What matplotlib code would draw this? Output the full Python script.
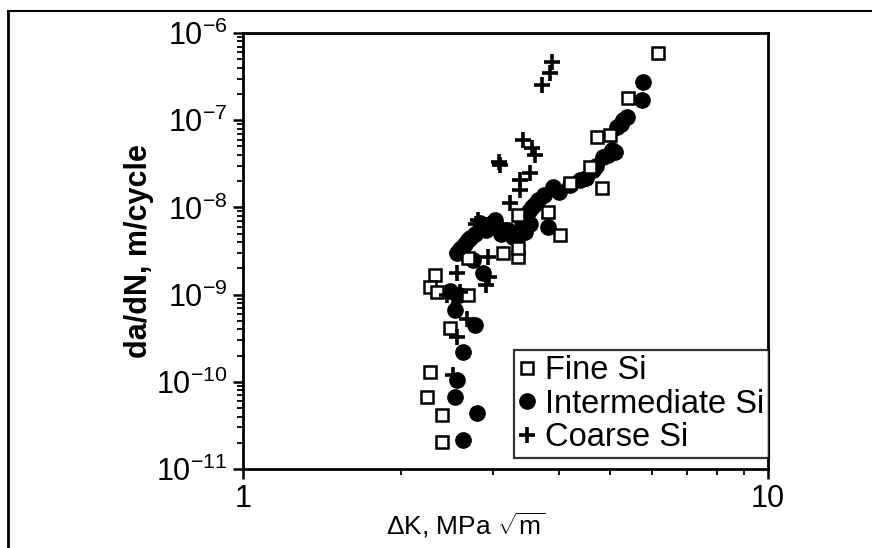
"""Fatigue crack growth rate vs stress intensity range for three Si morphologies."""

import matplotlib
matplotlib.use("Agg")
import matplotlib.pyplot as plt
from matplotlib.lines import Line2D
from matplotlib.ticker import LogLocator, FixedLocator, FixedFormatter, NullFormatter

plt.rcParams["font.family"] = ["Liberation Sans", "DejaVu Sans"]
plt.rcParams["mathtext.fontset"] = "custom"
plt.rcParams["mathtext.rm"] = "Liberation Sans"
plt.rcParams["mathtext.it"] = "Liberation Sans"
plt.rcParams["mathtext.default"] = "regular"
plt.rcParams["axes.unicode_minus"] = False

# data (dK in MPa*sqrt(m), da/dN in m/cycle)
fine_dk = [6.17, 5.41, 4.72, 5.00, 4.58, 4.83, 4.20, 4.02, 3.81, 3.34, 3.13, 3.34, 3.34,
           2.68, 2.32, 2.27, 2.34, 2.68, 2.48, 2.27, 2.24, 2.39, 2.39]
fine_dadn = [5.9e-7, 1.8e-7, 6.4e-8, 6.8e-8, 2.9e-8, 1.67e-8, 1.9e-8, 4.8e-9, 8.9e-9, 8.2e-9,
             3.0e-9, 2.7e-9, 3.4e-9, 2.6e-9, 1.68e-9, 1.22e-9, 1.06e-9, 9.9e-10, 4.1e-10,
             1.3e-10, 6.7e-11, 4.2e-11, 2.04e-11]

inter_dk = [5.78, 5.75, 5.39, 5.30, 5.25, 5.16, 5.11, 5.05, 4.95, 4.85, 4.70, 4.64, 4.50,
            4.38, 4.20, 4.00, 3.90, 3.75, 3.65, 3.60, 3.55, 3.50, 3.45, 3.81, 3.41, 3.30,
            3.27, 3.20, 3.10, 3.02, 2.90, 2.83, 2.68, 2.62, 2.74, 2.86, 2.58, 2.48, 2.53,
            2.77, 2.62, 2.56, 2.53, 2.79, 2.62,
            2.56, 2.59, 2.65, 2.71, 2.77, 2.95, 3.05, 3.15, 3.25, 3.35, 3.45, 3.40, 3.52]
inter_dadn = [2.74e-7, 1.7e-7, 1.09e-7, 1.0e-7, 9.0e-8, 8.4e-8, 4.3e-8, 4.5e-8, 4.0e-8,
              3.8e-8, 3.0e-8, 2.7e-8, 2.2e-8, 2.06e-8, 1.8e-8, 1.5e-8, 1.7e-8, 1.4e-8,
              1.2e-8, 1.1e-8, 1.0e-8, 9.0e-9, 8.0e-9, 6.0e-9, 6.0e-9, 5.0e-9, 4.6e-9,
              5.5e-9, 5.0e-9, 7.2e-9, 5.5e-9, 6.6e-9, 4.2e-9, 3.5e-9, 2.5e-9, 1.77e-9,
              1.0e-9, 1.1e-9, 6.7e-10, 4.5e-10, 2.2e-10, 1.05e-10, 6.7e-11, 4.4e-11, 2.15e-11,
              3.0e-9, 3.3e-9, 3.8e-9, 4.4e-9, 5.0e-9, 6.5e-9, 6.0e-9, 5.5e-9, 5.0e-9,
              4.8e-9, 5.2e-9, 7.0e-9, 6.5e-9]

coarse_dk = [3.88, 3.85, 3.71, 3.41, 3.55, 3.60, 3.09, 3.07, 3.52, 3.37, 3.37, 3.22, 2.80,
             2.78, 2.56, 2.93, 2.56, 2.94, 2.90, 2.51, 2.45, 2.59, 2.67, 2.56, 2.51]
coarse_dadn = [4.65e-7, 3.5e-7, 2.5e-7, 5.9e-8, 4.8e-8, 4.0e-8, 3.1e-8, 3.3e-8, 2.5e-8,
               2.06e-8, 1.6e-8, 1.12e-8, 7.2e-9, 6.5e-9, 3.0e-9, 2.7e-9, 1.77e-9, 1.6e-9,
               1.3e-9, 9.5e-10, 1.0e-9, 1.06e-9, 5.3e-10, 3.3e-10, 1.2e-10]

series_labels = ["Fine Si", "Intermediate Si", "Coarse Si"]

fig = plt.figure(figsize=(8.72, 5.48), dpi=100)
ax = fig.add_axes([243 / 872, 79 / 548, 525 / 872, 436 / 548])

ax.plot(fine_dk, fine_dadn, ls="none", marker="s", ms=9, mfc="white", mec="black",
        mew=1.8, label=series_labels[0], zorder=3)
ax.plot(inter_dk, inter_dadn, ls="none", marker="o", ms=11, mfc="black", mec="black",
        label=series_labels[1], zorder=2)
ax.plot(coarse_dk, coarse_dadn, ls="none", marker="+", ms=11, mec="black", mew=2.6,
        label=series_labels[2], zorder=4)

ax.set_xscale("log")
ax.set_yscale("log")
ax.set_xlim(1, 10)
ax.set_ylim(1e-11, 1e-6)

ax.xaxis.set_major_locator(FixedLocator([1, 10]))
ax.xaxis.set_major_formatter(FixedFormatter(["1", "10"]))
ax.xaxis.set_minor_locator(LogLocator(base=10, subs=range(2, 10)))
ax.xaxis.set_minor_formatter(NullFormatter())
ax.yaxis.set_minor_locator(LogLocator(base=10, subs=range(2, 10), numticks=20))
ax.yaxis.set_minor_formatter(NullFormatter())

for side in ax.spines.values():
    side.set_linewidth(2)
ax.tick_params(which="major", direction="out", length=7, width=1.8, labelsize=22, pad=4)
ax.tick_params(which="minor", direction="out", length=4, width=1.3)

# x label sits left of the axes centre in the original
ax.text(0.425, -0.128, r"ΔK, MPa $\sqrt{m}$", transform=ax.transAxes,
        ha="center", va="center", fontsize=19)
ax.set_ylabel("da/dN, m/cycle", fontsize=22, fontweight="bold")
ax.yaxis.set_label_coords(-0.17, 0.5)

leg = ax.legend(loc="lower right", bbox_to_anchor=(1.002, 0.025), fontsize=23.5,
                frameon=True, fancybox=False, edgecolor="black", handlelength=0.5,
                handletextpad=0.3, borderpad=0.15, labelspacing=0.08, borderaxespad=0)
leg.get_frame().set_linewidth(1.6)

# border of the scanned page
fig.add_artist(Line2D([8 / 872, 8 / 872], [0, 1 - 11 / 548], color="black", lw=2))
fig.add_artist(Line2D([8 / 872, 1], [1 - 11 / 548, 1 - 11 / 548], color="black", lw=1.5))

fig.savefig("out.png", dpi=100)
